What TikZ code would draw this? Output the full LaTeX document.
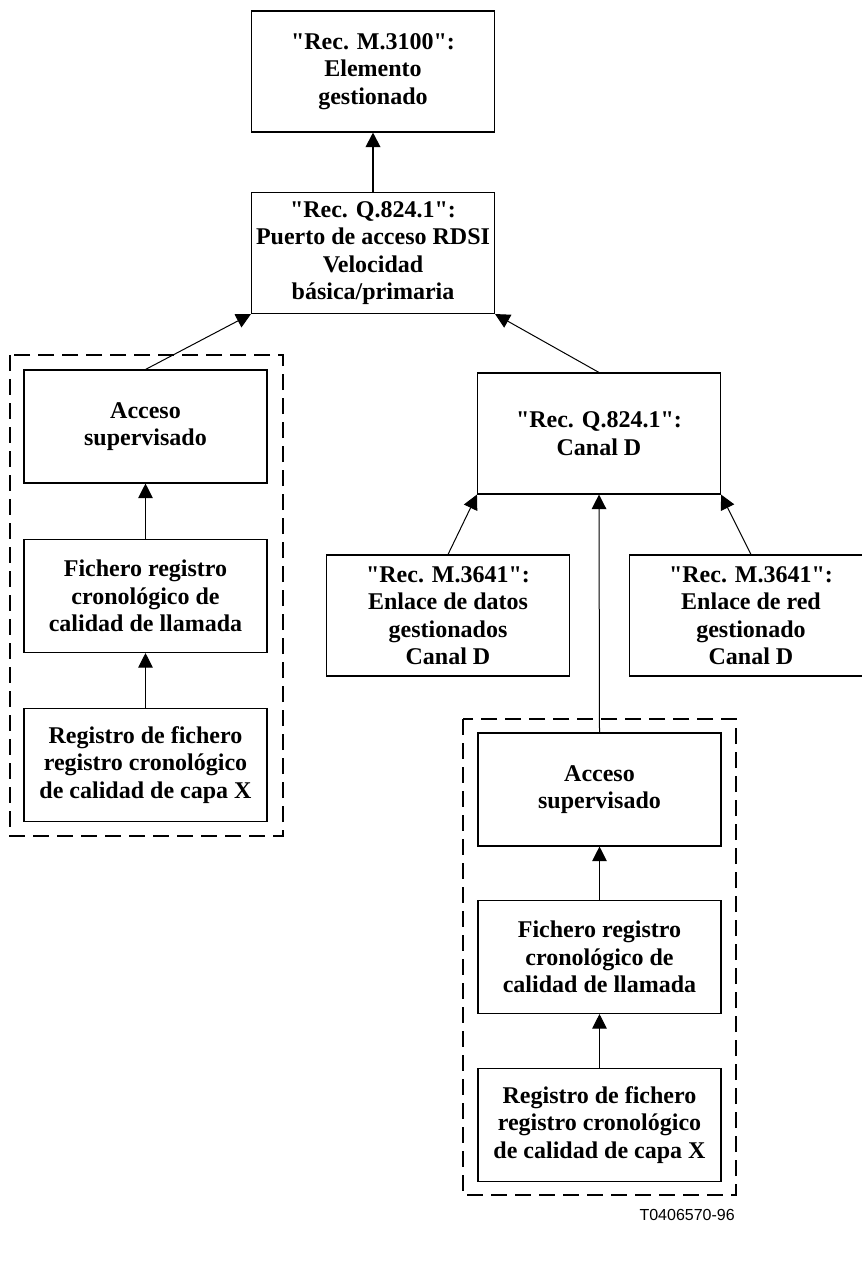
\documentclass[tikz,border=0pt]{standalone}
\usepackage{fontspec}
\setmainfont{Liberation Serif}[Ligatures=TeXOff]
\newfontfamily\labelfont{Liberation Sans}
\usetikzlibrary{arrows.meta}
\begin{document}
\begin{tikzpicture}[x=0.75pt,y=-0.75pt,
  box/.style={draw, line width=0.8pt, minimum width=182.25pt, align=center,
    font=\fontsize{18}{20.5}\selectfont\bfseries, inner sep=2pt},
  tallbox/.style={box, minimum height=90.75pt},
  inbox/.style={box, minimum height=84.75pt},
  conn/.style={line width=0.75pt, -{Triangle[width=11pt,length=11pt]}},
  thickconn/.style={line width=1.5pt, -{Triangle[width=11pt,length=11pt]}},
  group/.style={draw, line width=1.4pt, dash pattern=on 12pt off 6pt}]
\useasboundingbox (0,0) rectangle (861,1266);

% groups
\draw[group] (10,355) rectangle (283,836);
\draw[group] (463,719) rectangle (736,1195);

\node[tallbox] (m3100) at (373,71.5) {"Rec. M.3100":\\Elemento\\gestionado};
\node[tallbox] (puerto) at (373,253) {"Rec. Q.824.1":\\Puerto de acceso RDSI\\Velocidad\\básica/primaria};
\node[tallbox] (canal) at (599,433.5) {"Rec. Q.824.1":\\Canal D};
\node[tallbox] (datos) at (448,615.5) {"Rec. M.3641":\\Enlace de datos\\gestionados\\Canal D};
\node[tallbox] (red) at (751,615.5) {"Rec. M.3641":\\Enlace de red\\gestionado\\Canal D};

\node[inbox] (la) at (145.5,426.5) {Acceso\\supervisado};
\node[inbox] (lb) at (145.5,596) {Fichero registro\\cronológico de\\calidad de llamada};
\node[inbox] (lc) at (145.5,765) {Registro de fichero\\registro cronológico\\de calidad de capa X};

\node[inbox] (ra) at (599.5,789.5) {Acceso\\supervisado};
\node[inbox] (rb) at (599.5,957) {Fichero registro\\cronológico de\\calidad de llamada};
\node[inbox] (rc) at (599.5,1125) {Registro de fichero\\registro cronológico\\de calidad de capa X};

\draw[thickconn] (puerto.north) -- (m3100.south);
\draw[conn] (la.north) -- (puerto.south west);
\draw[conn] (canal.north) -- (puerto.south east);
\draw[conn] (datos.north) -- (canal.south west);
\draw[conn] (red.north) -- (canal.south east);
\draw[conn] (ra.north) -- (canal.south);
\draw[conn] (lb.north) -- (la.south);
\draw[conn] (lc.north) -- (lb.south);
\draw[conn] (rb.north) -- (ra.south);
\draw[conn] (rc.north) -- (rb.south);

\node[anchor=base east, inner sep=0pt, font=\labelfont\fontsize{12}{14}\selectfont] (code) at (735,1220) {T0406570-96};
\end{tikzpicture}
\end{document}
